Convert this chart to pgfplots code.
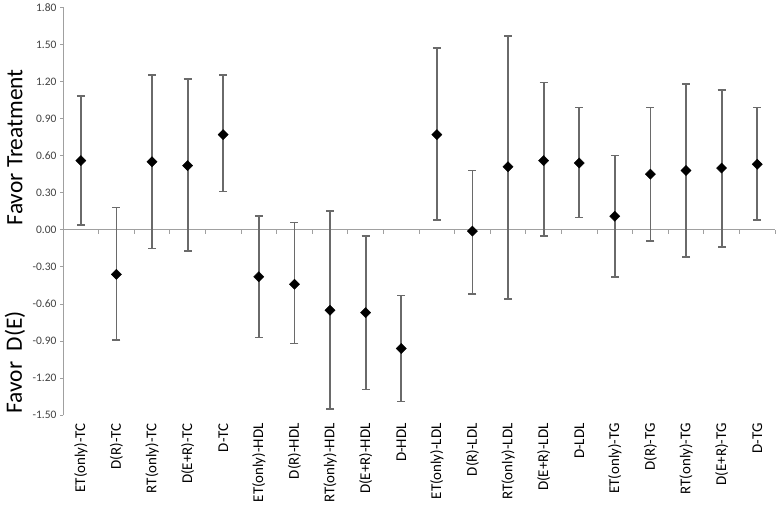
\documentclass[border=0pt]{standalone}
\usepackage{fontspec}
\setmainfont{Carlito}
\usepackage{pgfplots}
\pgfplotsset{compat=1.18}
\usepackage{pgfplotstable}
\definecolor{axisgray}{HTML}{A0A0A0}
\definecolor{bargray}{HTML}{6A6A6A}
\definecolor{ticktext}{HTML}{404040}

\pgfplotstableread{
x y hi lo
0 0.56 1.08 0.04
1 -0.36 0.18 -0.89
2 0.55 1.25 -0.15
3 0.52 1.22 -0.17
4 0.77 1.25 0.31
5 -0.38 0.11 -0.87
6 -0.44 0.06 -0.92
7 -0.65 0.15 -1.45
8 -0.67 -0.05 -1.29
9 -0.96 -0.53 -1.39
10 0.77 1.47 0.08
11 -0.01 0.48 -0.52
12 0.51 1.57 -0.56
13 0.56 1.19 -0.05
14 0.54 0.99 0.10
15 0.11 0.60 -0.38
16 0.45 0.99 -0.09
17 0.48 1.18 -0.22
18 0.50 1.13 -0.14
19 0.53 0.99 0.08
}\data

\begin{document}
\begin{tikzpicture}
\begin{axis}[
 scale only axis, width=712bp, height=408bp,
 xmin=-0.5, xmax=19.5, ymin=-1.5, ymax=1.8,
 axis x line=middle, axis y line=left,
 x axis line style={-, draw=axisgray, line width=1bp},
 y axis line style={-, draw=axisgray, line width=1bp},
 xtick={0,...,19},
 xticklabels={ET(only)-TC, D(R)-TC, RT(only)-TC, D(E+R)-TC, D-TC,
   ET(only)-HDL, D(R)-HDL, RT(only)-HDL, D(E+R)-HDL, D-HDL,
   ET(only)-LDL, D(R)-LDL, RT(only)-LDL, D(E+R)-LDL, D-LDL,
   ET(only)-TG, D(R)-TG, RT(only)-TG, D(E+R)-TG, D-TG},
 major x tick style={draw=none},
 minor xtick={-0.5,0.5,...,19.5},
 minor tick length=4bp,
 minor x tick style={draw=axisgray, line width=1bp},
 xticklabel style={rotate=90, anchor=east, font=\fontsize{15}{17}\selectfont, text=black},
 xticklabel shift=187bp,
 ytick={-1.5,-1.2,-0.9,-0.6,-0.3,0,0.3,0.6,0.9,1.2,1.5,1.8},
 yticklabels={-1.50,-1.20,-0.90,-0.60,-0.30,0.00,0.30,0.60,0.90,1.20,1.50,1.80},
 yticklabel style={font=\fontsize{11.5}{13}\selectfont, text=ticktext},
 tick align=outside, major tick length=3bp,
 major y tick style={draw=axisgray, line width=1bp},
 clip=false,
]
\path (axis description cs:-0.0885,-0.2304) rectangle (axis description cs:1.0042,1.0123);
\addplot[only marks, mark=none,
  error bars/.cd, y dir=both, y explicit,
  error bar style={draw=bargray, line width=1.8bp},
  error mark options={draw=bargray, line width=1.6bp, rotate=90, mark size=4bp}]
  table[x=x, y=y, y error plus expr=\thisrow{hi}-\thisrow{y}, y error minus expr=\thisrow{y}-\thisrow{lo}] {\data};
\addplot[only marks, mark=square*, mark size=3.6bp, mark options={rotate=45, fill=black, draw=black}]
  table[x=x, y=y] {\data};
\node[rotate=90, font=\fontsize{23.5}{28}\selectfont] at (axis description cs:-0.0674,0.657) {Favor Treatment};
\node[rotate=90, font=\fontsize{23.5}{28}\selectfont] at (axis description cs:-0.0674,0.130) {Favor\ \ D(E)};
\end{axis}
\end{tikzpicture}
\end{document}
